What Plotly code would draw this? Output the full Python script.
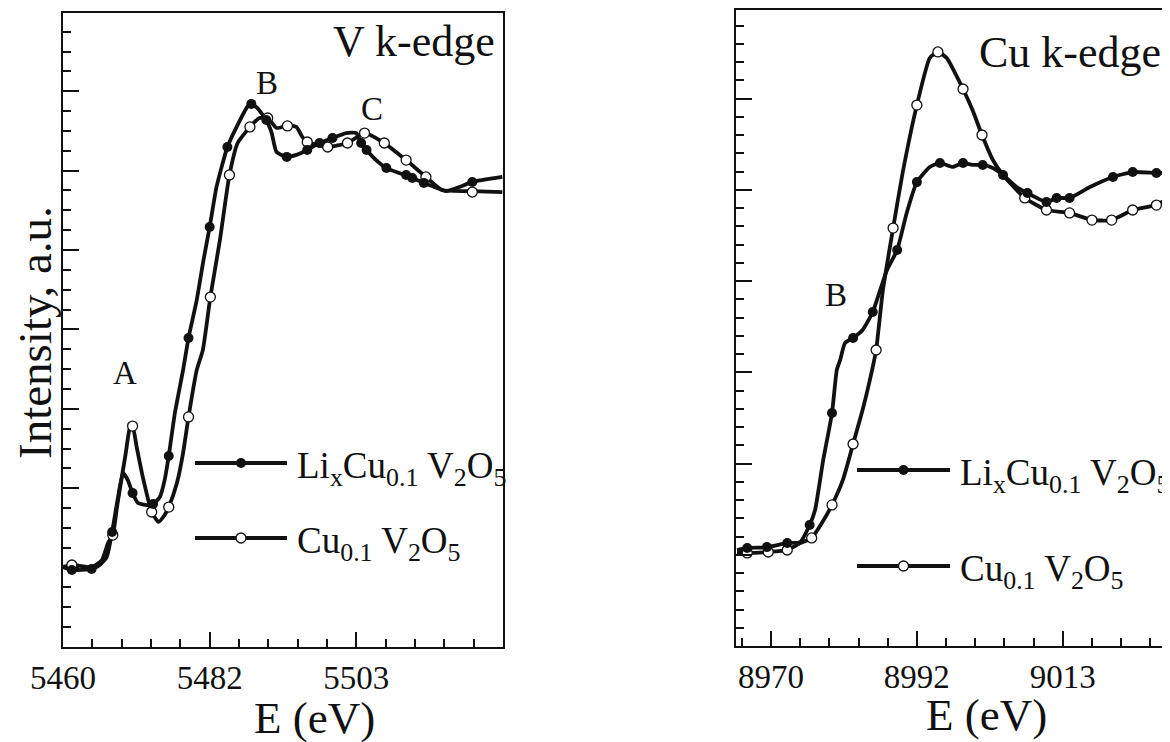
import plotly.graph_objects as go

# ---------------- V k-edge (left panel) ----------------
v_li_E = [5460.0, 5461.3, 5464.2, 5465.4, 5466.4, 5467.2, 5468.0, 5468.8, 5469.5, 5470.2,
          5471.0, 5472.3, 5473.2, 5474.2, 5474.9, 5475.5, 5476.4, 5477.6, 5478.4, 5479.6,
          5480.6, 5481.5, 5482.5, 5484.1, 5485.6, 5487.0, 5487.6, 5488.5, 5489.8, 5490.6,
          5491.3, 5492.8, 5494.2, 5495.8, 5497.6, 5499.5, 5501.5, 5503.0, 5503.7, 5504.5,
          5505.9, 5507.4, 5509.3, 5511.2, 5512.9, 5514.1, 5516.2, 5518.1, 5520.0, 5524.4]
v_li_I = [4.03, 3.88, 3.93, 4.13, 4.53, 5.79, 7.41, 8.77, 8.41, 7.76,
          7.25, 7.15, 7.20, 7.56, 8.41, 9.62, 11.79, 13.95, 15.57, 17.48,
          19.50, 21.16, 23.17, 25.19, 26.30, 27.20, 27.36, 27.15, 26.55, 25.89,
          24.94, 24.69, 24.79, 25.04, 25.39, 25.64, 25.89, 25.89, 25.39, 25.04,
          24.53, 24.13, 23.88, 23.63, 23.38, 23.22, 22.97, 23.17, 23.43, 23.68]

v_cu_E = [5460.0, 5461.3, 5464.2, 5465.7, 5466.6, 5467.3, 5468.0, 5469.2, 5469.8, 5470.2,
          5470.8, 5471.7, 5473.0, 5474.0, 5474.9, 5475.5, 5476.7, 5477.6, 5478.4, 5479.6,
          5480.5, 5481.6, 5483.0, 5484.4, 5485.6, 5487.4, 5488.8, 5490.0, 5491.3, 5492.9,
          5494.2, 5495.1, 5495.8, 5498.8, 5501.7, 5504.2, 5507.1, 5510.3, 5513.2, 5515.6,
          5520.0, 5524.4]
v_cu_I = [4.03, 4.13, 4.03, 4.38, 5.24, 5.64, 7.25, 9.77, 11.03, 11.13,
          10.08, 8.56, 6.80, 6.30, 6.65, 7.05, 8.26, 9.77, 11.59, 13.95,
          14.96, 17.63, 20.50, 23.78, 25.39, 26.20, 26.65, 26.65, 26.15, 26.25,
          26.20, 25.69, 25.44, 25.19, 25.39, 25.89, 25.39, 24.53, 23.68, 23.02,
          22.97, 22.92]

# marker (sampled) points
v_li_mE = [5461.3, 5464.2, 5467.2, 5470.2, 5473.2, 5475.5, 5478.4, 5481.5, 5484.1, 5487.6,
           5489.8, 5492.8, 5495.8, 5497.6, 5499.5, 5503.7, 5504.5, 5507.4, 5510.3, 5511.2,
           5512.9, 5520.0]
v_li_mI = [3.88, 3.93, 5.79, 7.76, 7.20, 9.62, 15.57, 21.16, 25.19, 27.36,
           26.55, 24.69, 25.04, 25.39, 25.64, 25.39, 25.04, 24.13, 23.78, 23.63,
           23.38, 23.43]
v_cu_mE = [5461.3, 5467.3, 5470.2, 5473.0, 5475.5, 5478.4, 5481.6, 5484.4, 5487.4, 5490.0,
           5492.9, 5495.8, 5498.8, 5501.7, 5504.2, 5507.1, 5510.3, 5513.2, 5520.0]
v_cu_mI = [4.13, 5.64, 11.13, 6.80, 7.05, 11.59, 17.63, 23.78, 26.20, 26.65,
           26.25, 25.44, 25.19, 25.39, 25.89, 25.39, 24.53, 23.68, 22.92]

# ---------------- Cu k-edge (right panel) ----------------
c_li_E = [8965.0, 8966.5, 8969.4, 8972.4, 8974.3, 8975.7, 8976.5, 8977.7, 8979.0, 8979.7,
          8980.2, 8980.9, 8982.1, 8983.5, 8985.0, 8986.1, 8987.1, 8988.6, 8990.0, 8991.5,
          8993.4, 8994.9, 8996.8, 8998.3, 8999.7, 9001.2, 9002.7, 9004.2, 9006.2, 9007.8,
          9010.6, 9012.1, 9014.0, 9017.0, 9020.4, 9023.3, 9026.8, 9028.8]
c_li_I = [5.26, 5.37, 5.42, 5.64, 5.70, 6.63, 7.45, 10.19, 12.77, 15.12,
          15.67, 16.60, 16.88, 17.32, 18.30, 19.51, 20.60, 21.70, 23.73, 25.42,
          26.25, 26.47, 26.25, 26.47, 26.36, 26.36, 26.19, 25.81, 25.15, 24.82,
          24.33, 24.55, 24.55, 25.15, 25.70, 25.97, 25.92, 25.92]

c_cu_E = [8965.0, 8966.5, 8969.6, 8972.4, 8974.3, 8976.0, 8977.5, 8979.0, 8980.6, 8982.1,
          8983.5, 8984.9, 8985.5, 8986.5, 8988.0, 8989.4, 8991.5, 8993.4, 8994.6, 8995.9,
          8998.3, 8999.7, 9001.1, 9002.7, 9004.2, 9007.4, 9010.6, 9014.0, 9017.3, 9020.2,
          9023.3, 9026.8, 9028.8]
c_cu_I = [5.15, 5.10, 5.15, 5.26, 5.64, 5.92, 6.74, 7.73, 9.10, 11.07,
          12.93, 15.12, 16.22, 19.51, 22.90, 25.92, 29.64, 32.22, 32.55, 32.22,
          30.52, 29.37, 28.00, 26.63, 25.81, 24.55, 23.89, 23.73, 23.34, 23.34,
          23.89, 24.16, 24.60]

c_li_mE = [8966.5, 8969.4, 8972.4, 8975.7, 8979.0, 8982.1, 8985.0, 8988.6, 8991.5, 8994.9,
           8998.3, 9001.2, 9004.2, 9007.8, 9010.6, 9012.1, 9014.0, 9020.4, 9023.3, 9026.8]
c_li_mI = [5.37, 5.42, 5.64, 6.63, 12.77, 16.88, 18.30, 21.70, 25.42, 26.47,
           26.47, 26.36, 25.81, 24.82, 24.33, 24.55, 24.55, 25.70, 25.97, 25.92]
c_cu_mE = [8966.5, 8969.6, 8972.4, 8976.0, 8979.0, 8982.1, 8985.5, 8988.0, 8991.5, 8994.6,
           8998.3, 9001.1, 9007.4, 9010.6, 9014.0, 9017.3, 9020.2, 9023.3, 9026.8]
c_cu_mI = [5.10, 5.15, 5.26, 5.92, 7.73, 11.07, 16.22, 22.90, 29.64, 32.55,
           30.52, 28.00, 24.55, 23.89, 23.73, 23.34, 23.34, 23.89, 24.16]

# tick labels
v_tickvals = [5460, 5481.5, 5503]
v_ticktext = ["5460", "5482", "5503"]
c_tickvals = [8970, 8991.5, 9013]
c_ticktext = ["8970", "8992", "9013"]

FONT = "Liberation Serif, Times New Roman, serif"
OFF = 8                      # default page margin of the HTML body
W, H = 1170 - OFF, 742 - OFF
INK = "#111111"


def px(x):
    return (x - OFF) / W


def py(y):
    return 1 - (y - OFF) / H


fig = go.Figure()

line = dict(color=INK, width=3.8, shape="spline", smoothing=0.5)
filled = dict(symbol="circle", size=10, color=INK, line=dict(width=0))
hollow = dict(symbol="circle", size=10, color="white", line=dict(width=1.3, color=INK))

for xa, ya, E1, I1, mE1, mI1, E2, I2, mE2, mI2 in [
    ("x", "y", v_li_E, v_li_I, v_li_mE, v_li_mI, v_cu_E, v_cu_I, v_cu_mE, v_cu_mI),
    ("x2", "y2", c_li_E, c_li_I, c_li_mE, c_li_mI, c_cu_E, c_cu_I, c_cu_mE, c_cu_mI),
]:
    fig.add_trace(go.Scatter(x=E2, y=I2, mode="lines", line=line, xaxis=xa, yaxis=ya,
                             showlegend=False, hoverinfo="skip"))
    fig.add_trace(go.Scatter(x=E1, y=I1, mode="lines", line=line, xaxis=xa, yaxis=ya,
                             showlegend=False, hoverinfo="skip"))
    fig.add_trace(go.Scatter(x=mE2, y=mI2, mode="markers", marker=hollow, xaxis=xa, yaxis=ya,
                             showlegend=False, hoverinfo="skip"))
    fig.add_trace(go.Scatter(x=mE1, y=mI1, mode="markers", marker=filled, xaxis=xa, yaxis=ya,
                             showlegend=False, hoverinfo="skip"))

xcommon = dict(
    ticks="inside", ticklen=15, tickwidth=1.5, tickcolor=INK,
    showline=True, linecolor=INK, linewidth=2,
    showgrid=False, zeroline=False, automargin=False,
    tickfont=dict(family=FONT, size=33, color=INK),
    ticklabelstandoff=0,
    tickmode="array",
)
ycommon = dict(
    ticks="inside", ticklen=16, tickwidth=1.5, tickcolor=INK,
    showline=True, linecolor=INK, linewidth=2, automargin=False,
    showgrid=False, zeroline=False, showticklabels=False,
    tickmode="linear", tick0=0,
)

fig.update_layout(
    template="none",
    width=W, height=H, autosize=False,
    margin=dict(l=0, r=0, t=0, b=0, pad=0, autoexpand=False),
    paper_bgcolor="white", plot_bgcolor="white",
    showlegend=False,
    xaxis=dict(xcommon, domain=[px(63), px(503)], range=[5460, 5524.5],
               tickvals=v_tickvals, ticktext=v_ticktext, mirror=True,
               minor=dict(tickmode="linear", tick0=5460, dtick=4.3, ticks="inside",
                          ticklen=8, tickwidth=1.5, tickcolor=INK, showgrid=False),
               anchor="y"),
    yaxis=dict(ycommon, domain=[py(647), py(13)], range=[0, 31.94], dtick=4, mirror=True,
               minor=dict(tickmode="linear", tick0=0, dtick=1, ticks="inside",
                          ticklen=8, tickwidth=1.5, tickcolor=INK, showgrid=False),
               anchor="x"),
    xaxis2=dict(xcommon, domain=[px(736), 1.0], range=[8964.85, 9028.8],
                tickvals=c_tickvals, ticktext=c_ticktext, mirror=True,
                minor=dict(tickmode="linear", tick0=8970, dtick=4.3, ticks="inside",
                           ticklen=8, tickwidth=1.5, tickcolor=INK, showgrid=False),
                anchor="y2"),
    yaxis2=dict(ycommon, domain=[py(646), py(10)], range=[0, 34.85], dtick=5, mirror=False,
                minor=dict(tickmode="linear", tick0=0, dtick=1, ticks="inside",
                           ticklen=8, tickwidth=1.5, tickcolor=INK, showgrid=False),
                anchor="x2"),
)

ann = []


def text(x, y, s, size, xanchor="center", yanchor="middle", angle=0):
    ann.append(dict(x=px(x), y=py(y), xref="paper", yref="paper", text=s, showarrow=False,
                    xanchor=xanchor, yanchor=yanchor, textangle=angle,
                    font=dict(family=FONT, size=size, color=INK)))


text(314, 718, "E (eV)", 45)
text(986, 715, "E (eV)", 45)
text(35, 333, "Intensity, a.u.", 47, angle=-90)
text(497, 41, "V k-edge", 44, xanchor="right")
text(1163, 52, "Cu k-edge", 44, xanchor="right")
text(125, 373, "A", 33)
text(267, 83, "B", 33)
text(372, 109, "C", 33)
text(836, 295, "B", 33)

li_label = "Li<sub>x</sub>Cu<sub>0.1</sub> V<sub>2</sub>O<sub>5</sub>"
cu_label = "Cu<sub>0.1</sub> V<sub>2</sub>O<sub>5</sub>"
text(295, 468, li_label, 37, xanchor="left")
text(295, 543, cu_label, 37, xanchor="left")
text(958, 475, li_label, 37, xanchor="left")
text(958, 571, cu_label, 37, xanchor="left")

shapes = []
for x0, x1, yl, is_filled in [(195, 287, 463, True), (195, 287, 538, False),
                               (857, 950, 470, True), (857, 950, 566, False)]:
    shapes.append(dict(type="line", xref="paper", yref="paper", x0=px(x0), x1=px(x1),
                       y0=py(yl), y1=py(yl), line=dict(color=INK, width=4)))
    cx = (x0 + x1) / 2
    r = 5
    shapes.append(dict(type="circle", xref="paper", yref="paper",
                       x0=px(cx - r), x1=px(cx + r), y0=py(yl + r), y1=py(yl - r),
                       fillcolor=INK if is_filled else "white",
                       line=dict(color=INK, width=0 if is_filled else 1.3)))

fig.update_layout(annotations=ann, shapes=shapes)
fig.write_html("out.html", config=dict(responsive=False))
